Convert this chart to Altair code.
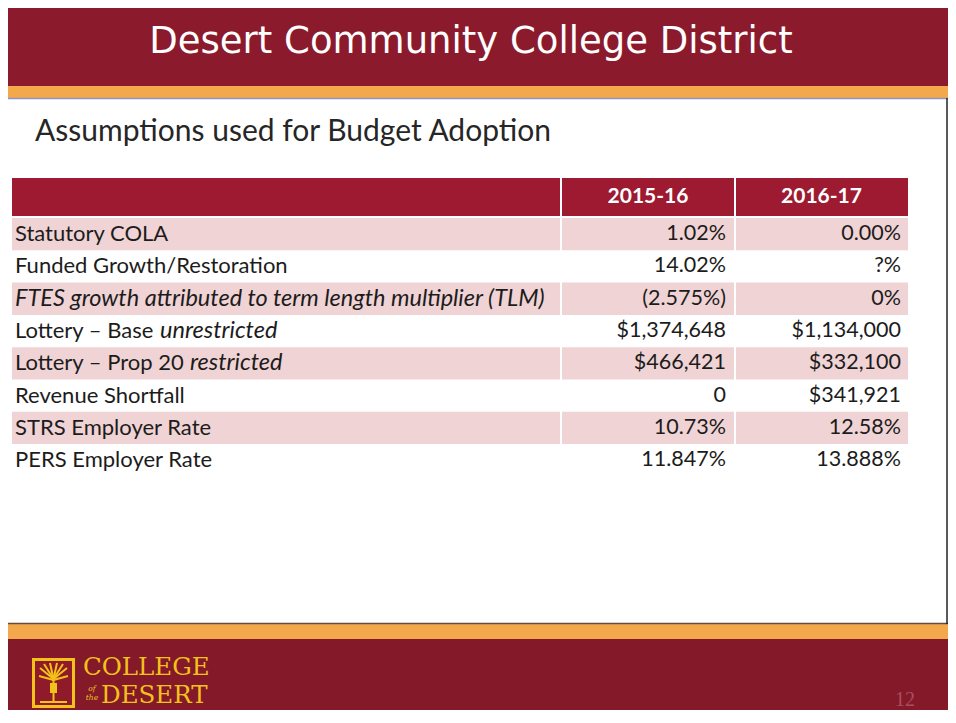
import altair as alt
import pandas as pd

# ---------------- data (text content of the slide) ----------------
title = "Desert Community College District"
subtitle = "Assumptions used for Budget Adoption"
years = ["2015-16", "2016-17"]
label_plain = ["Statutory COLA", "Funded Growth/Restoration", "",
               "Lottery \u2013 Base ", "Lottery \u2013 Prop 20 ",
               "Revenue Shortfall", "STRS Employer Rate", "PERS Employer Rate"]
label_italic = ["", "", "FTES growth attributed to term length multiplier (TLM)",
                "unrestricted", "restricted", "", "", ""]
values_2015 = ["1.02%", "14.02%", "(2.575%)", "$1,374,648", "$466,421", "0", "10.73%", "11.847%"]
values_2016 = ["0.00%", "?%", "0%", "$1,134,000", "$332,100", "$341,921", "12.58%", "13.888%"]
logo_top = "COLLEGE"
logo_bottom = "DESERT"
logo_small = ["of", "the"]
page_number = "12"

# ---------------- layout (slide pixel coordinates) ----------------
W, H = 940, 702
XD = [8, 948]
YD = [8, 710]
MAROON = "#8b1b2c"
HEADRED = "#9d1a31"
PINK = "#f0d3d4"
ORANGE = "#f4a84c"
GOLD = "#f3c21a"
TEXT = "#1c1c1c"
BODY_FONT = "Lato"

tbl_left, tbl_right = 12, 908
col_div = [561, 735]
head_top, head_bot = 178, 216
row_top0, row_h = 218, 32.3
label_x = 15
italic_x = [None, None, 15, 160, 190, None, None, None]

xs = alt.Scale(domain=XD, nice=False, zero=False)
ys = alt.Scale(domain=YD, nice=False, zero=False, reverse=True)


def rect_layer(df):
    return alt.Chart(df).mark_rect().encode(
        x=alt.X("x:Q", scale=xs, axis=None),
        x2="x2:Q",
        y=alt.Y("y:Q", scale=ys, axis=None),
        y2="y2:Q",
        color=alt.Color("c:N", scale=None),
    )


def rule_layer(df, width):
    return alt.Chart(df).mark_rule(strokeWidth=width).encode(
        x=alt.X("x:Q", scale=xs, axis=None),
        x2="x2:Q",
        y=alt.Y("y:Q", scale=ys, axis=None),
        y2="y2:Q",
        color=alt.Color("c:N", scale=None),
    )


def text_layer(df, **kw):
    return alt.Chart(df).mark_text(baseline="middle", **kw).encode(
        x=alt.X("x:Q", scale=xs, axis=None),
        y=alt.Y("y:Q", scale=ys, axis=None),
        text="t:N",
    )


# background bands
bands = pd.DataFrame([
    dict(x=0, x2=956, y=0, y2=86, c=MAROON),
    dict(x=0, x2=956, y=86, y2=98, c=ORANGE),
    dict(x=0, x2=956, y=624, y2=639, c=ORANGE),
    dict(x=0, x2=956, y=639, y2=723, c="#84192a"),
])
band_lines = pd.DataFrame([
    dict(x=0, x2=956, y=98.5, y2=98.5, c="#8f92c4"),
    dict(x=0, x2=956, y=623.5, y2=623.5, c="#6b4a3a"),
    dict(x=947, x2=947, y=98, y2=624, c="#222222"),
])

# table cells
cells = [dict(x=tbl_left, x2=tbl_right, y=head_top, y2=head_bot, c=HEADRED)]
n = len(label_plain)
for i in range(n):
    if i % 2 == 0:
        t = row_top0 + i * row_h
        cells.append(dict(x=tbl_left, x2=tbl_right, y=t, y2=t + row_h, c=PINK))
cells = pd.DataFrame(cells)
tbl_bottom = row_top0 + n * row_h
dividers = pd.DataFrame([dict(x=cx, x2=cx, y=head_top, y2=tbl_bottom, c="white") for cx in col_div])

row_y = [row_top0 + i * row_h + row_h / 2 for i in range(n)]
plain_df = pd.DataFrame(dict(x=[label_x] * n, y=row_y, t=label_plain))
plain_df = plain_df[plain_df.t != ""]
ital_df = pd.DataFrame(dict(x=italic_x, y=row_y, t=label_italic))
ital_df = ital_df[ital_df.t != ""]
v15 = pd.DataFrame(dict(x=[col_div[1] - 9] * n, y=row_y, t=values_2015))
v16 = pd.DataFrame(dict(x=[tbl_right - 7] * n, y=row_y, t=values_2016))
head_df = pd.DataFrame(dict(x=[(col_div[0] + col_div[1]) / 2, (col_div[1] + tbl_right) / 2],
                            y=[(head_top + head_bot) / 2] * 2, t=years))

title_df = pd.DataFrame(dict(x=[471], y=[42], t=[title]))
sub_df = pd.DataFrame(dict(x=[35], y=[132], t=[subtitle]))

# logo
logo_box = pd.DataFrame([
    dict(x=32, x2=75, y=658, y2=708, c=GOLD),
    dict(x=35, x2=72, y=661, y2=705, c="#8e1a2a"),
])
palm = pd.DataFrame([
    dict(x=53.5, x2=53.5, y=680, y2=702, c=GOLD),
    dict(x=53.5, x2=40, y=679, y2=668, c=GOLD),
    dict(x=53.5, x2=44, y=679, y2=664, c=GOLD),
    dict(x=53.5, x2=50, y=679, y2=663, c=GOLD),
    dict(x=53.5, x2=57, y=679, y2=663, c=GOLD),
    dict(x=53.5, x2=63, y=679, y2=664, c=GOLD),
    dict(x=53.5, x2=67, y=679, y2=668, c=GOLD),
    dict(x=53.5, x2=39, y=680, y2=676, c=GOLD),
    dict(x=53.5, x2=68, y=680, y2=676, c=GOLD),
    dict(x=40, x2=67, y=702, y2=702, c=GOLD),
])
bulb = pd.DataFrame([dict(x=50, x2=57, y=683, y2=693, c=GOLD)])
logo_t1 = pd.DataFrame(dict(x=[83], y=[668], t=[logo_top]))
logo_t2 = pd.DataFrame(dict(x=[101], y=[696], t=[logo_bottom]))
logo_small_df = pd.DataFrame(dict(x=[92, 92], y=[689, 698], t=logo_small))
page_df = pd.DataFrame(dict(x=[915], y=[700], t=[page_number]))

chart = alt.layer(
    rect_layer(bands),
    rule_layer(band_lines, 1.5),
    rect_layer(cells),
    rule_layer(dividers, 2),
    text_layer(title_df, align="center", font="DejaVu Sans", fontSize=37, color="white"),
    text_layer(sub_df, align="left", font=BODY_FONT, fontSize=30, color="#262626"),
    text_layer(head_df, align="center", font=BODY_FONT, fontSize=21, fontWeight="bold", color="white"),
    text_layer(plain_df, align="left", font=BODY_FONT, fontSize=22, color=TEXT),
    text_layer(ital_df, align="left", font=BODY_FONT, fontSize=23.5, fontStyle="italic", color=TEXT),
    text_layer(v15, align="right", font=BODY_FONT, fontSize=21.5, color=TEXT),
    text_layer(v16, align="right", font=BODY_FONT, fontSize=21.5, color=TEXT),
    rect_layer(logo_box),
    rule_layer(palm, 2),
    rect_layer(bulb),
    text_layer(logo_t1, align="left", font="DejaVu Serif", fontSize=24.5, color=GOLD),
    text_layer(logo_t2, align="left", font="DejaVu Serif", fontSize=24.5, color=GOLD),
    text_layer(logo_small_df, align="center", font="DejaVu Serif", fontSize=7.5,
               fontStyle="italic", color=GOLD),
    text_layer(page_df, align="right", font="Liberation Serif", fontSize=20, color="#a8505c"),
).properties(
    width=W, height=H, padding=0, autosize=alt.AutoSizeParams(type="none")
).configure_view(strokeWidth=0)

chart.save("out.html", embed_options={"renderer": "svg", "actions": False})
